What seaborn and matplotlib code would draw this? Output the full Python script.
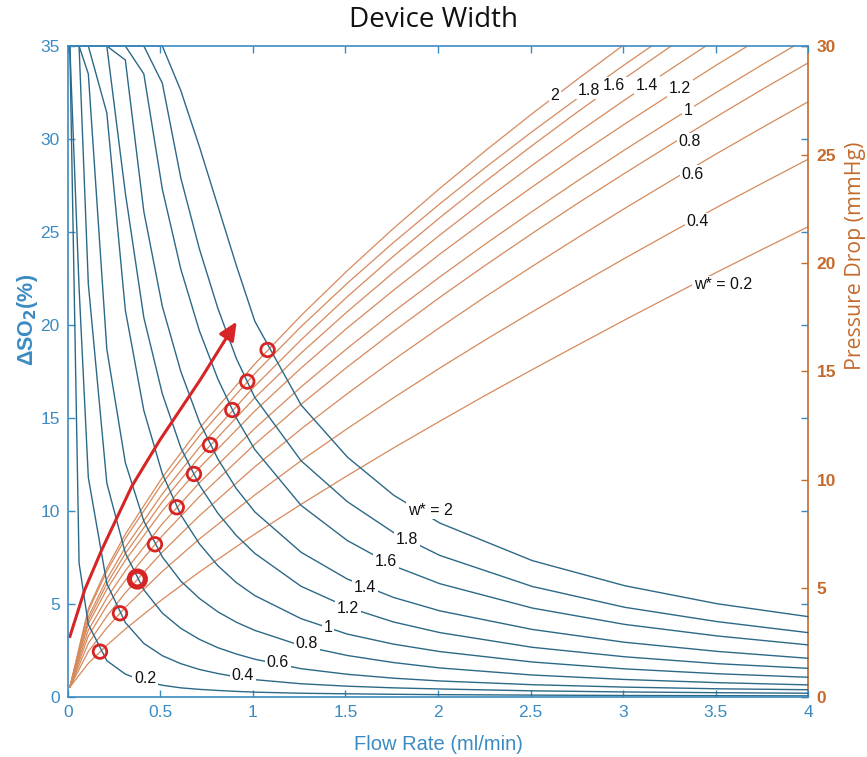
import matplotlib
matplotlib.use("Agg")
import matplotlib.pyplot as plt
import numpy as np
import pandas as pd
import seaborn as sns

# ---------------------------------------------------------------- data
widths = [0.2, 0.4, 0.6, 0.8, 1.0, 1.2, 1.4, 1.6, 1.8, 2.0]
so2_labels = ["0.2", "0.4", "0.6", "0.8", "1", "1.2", "1.4", "1.6", "1.8", "w* = 2"]
dp_labels = ["w* = 0.2", "0.4", "0.6", "0.8", "1", "1.2", "1.4", "1.6", "1.8", "2"]

# flow-rate samples (ml/min) of the oxygen-saturation curves
flow_so2 = [0.01, 0.06, 0.11, 0.21, 0.31, 0.41, 0.51, 0.61, 0.71, 0.81,
            0.91, 1.01, 1.26, 1.51, 1.76, 2.01, 2.51, 3.01, 3.51, 4.0]

# delta SO2 (%) per device width, capped at 35
so2_w02 = [35, 7.2, 3.9, 1.95, 1.23, 0.85, 0.63, 0.49, 0.41, 0.35,
           0.30, 0.26, 0.20, 0.17, 0.145, 0.125, 0.10, 0.08, 0.07, 0.06]
so2_w04 = [35, 22.0, 11.8, 6.1, 4.0, 2.88, 2.22, 1.79, 1.48, 1.26,
           1.08, 0.93, 0.71, 0.58, 0.49, 0.43, 0.33, 0.27, 0.23, 0.20]
so2_w06 = [35, 35, 22.2, 11.5, 7.74, 5.76, 4.51, 3.69, 3.10, 2.65,
           2.31, 2.03, 1.52, 1.22, 1.01, 0.86, 0.66, 0.53, 0.44, 0.39]
so2_w08 = [35, 35, 33.5, 18.7, 12.6, 9.46, 7.53, 6.23, 5.30, 4.58,
           4.02, 3.58, 2.76, 2.23, 1.85, 1.56, 1.18, 0.94, 0.77, 0.65]
so2_w10 = [35, 35, 35, 31.4, 20.8, 15.4, 12.0, 9.79, 8.24, 7.06,
           6.15, 5.45, 4.21, 3.38, 2.84, 2.44, 1.88, 1.51, 1.25, 1.06]
so2_w12 = [35, 35, 35, 35, 27.1, 20.4, 16.3, 13.4, 11.4, 9.88,
           8.68, 7.72, 5.95, 4.83, 4.03, 3.46, 2.67, 2.16, 1.79, 1.54]
so2_w14 = [35, 35, 35, 35, 34.25, 26.1, 21.0, 17.5, 14.8, 12.8,
           11.2, 9.95, 7.78, 6.34, 5.35, 4.63, 3.63, 2.94, 2.45, 2.08]
so2_w16 = [35, 35, 35, 35, 35, 33.5, 27.3, 23.0, 19.7, 17.1,
           15.0, 13.3, 10.3, 8.41, 7.05, 6.09, 4.78, 3.90, 3.28, 2.80]
so2_w18 = [35, 35, 35, 35, 35, 35, 33.0, 27.9, 24.1, 20.9,
           18.2, 16.1, 12.7, 10.5, 8.84, 7.61, 5.94, 4.82, 4.05, 3.46]
so2_w20 = [35, 35, 35, 35, 35, 35, 35, 32.6, 29.6, 26.4,
           23.2, 20.2, 15.7, 12.9, 10.85, 9.35, 7.33, 5.98, 5.01, 4.32]

# flow-rate samples (ml/min) of the pressure-drop curves
flow_dp = [0.01, 0.11, 0.21, 0.31, 0.51, 0.71, 1.01, 1.26, 1.51, 1.76,
           2.01, 2.26, 2.51, 2.76, 3.01, 3.26, 3.51, 3.76, 4.0]

# pressure drop (mmHg) per device width
dp_w02 = [0.45, 1.55, 2.38, 3.13, 4.50, 5.76, 7.51, 8.88, 10.20, 11.48,
          12.71, 13.92, 15.09, 16.24, 17.38, 18.49, 19.59, 20.66, 21.67]
dp_w04 = [0.45, 2.10, 3.18, 4.13, 5.79, 7.28, 9.31, 10.89, 12.37, 13.79,
          15.16, 16.48, 17.75, 19.00, 20.22, 21.41, 22.58, 23.71, 24.78]
dp_w06 = [0.45, 2.47, 3.72, 4.80, 6.68, 8.35, 10.61, 12.35, 13.98, 15.54,
          17.03, 18.47, 19.85, 21.20, 22.52, 23.80, 25.06, 26.28, 27.43]
dp_w08 = [0.45, 2.81, 4.20, 5.38, 7.43, 9.23, 11.65, 13.49, 15.21, 16.85,
          18.42, 19.92, 21.37, 22.78, 24.14, 25.47, 26.77, 28.04, 29.22]
dp_w10 = [0.45, 3.08, 4.56, 5.82, 7.98, 9.87, 12.38, 14.29, 16.07, 17.76,
          19.36, 20.90, 22.38, 23.82, 25.22, 26.57, 27.89, 29.18, 30.38]
dp_w12 = [0.45, 3.37, 4.96, 6.30, 8.58, 10.56, 13.18, 15.16, 17.01, 18.75,
          20.41, 21.99, 23.51, 24.99, 26.41, 27.79, 29.15, 30.45, 31.68]
dp_w14 = [0.45, 3.54, 5.21, 6.61, 8.99, 11.05, 13.79, 15.85, 17.76, 19.57,
          21.29, 22.94, 24.51, 26.04, 27.52, 28.95, 30.35, 31.70, 32.97]
dp_w16 = [0.45, 3.69, 5.43, 6.89, 9.36, 11.50, 14.33, 16.46, 18.45, 20.32,
          22.09, 23.79, 25.42, 27.00, 28.52, 30.00, 31.44, 32.84, 34.15]
dp_w18 = [0.45, 3.97, 5.79, 7.30, 9.85, 12.03, 14.91, 17.07, 19.07, 20.95,
          22.73, 24.43, 26.06, 27.63, 29.15, 30.62, 32.06, 33.43, 34.73]
dp_w20 = [0.45, 4.07, 5.94, 7.50, 10.12, 12.38, 15.35, 17.58, 19.65, 21.60,
          23.44, 25.20, 26.89, 28.51, 30.09, 31.61, 33.10, 34.53, 35.88]

# operating points (flow, delta SO2) picked for each width
point_flow = [0.173, 0.281, 0.375, 0.470, 0.588, 0.681, 0.768, 0.888, 0.969, 1.079]
point_so2 = [2.44, 4.50, 6.34, 8.21, 10.2, 11.99, 13.55, 15.43, 16.96, 18.66]

# trend arrow through the operating points (flow, delta SO2)
arrow_flow = [0.01, 0.09, 0.182, 0.344, 0.497, 0.714, 0.84]
arrow_so2 = [3.24, 5.75, 7.90, 11.31, 13.82, 17.04, 19.05]
arrow_tip = (0.912, 20.18)

# inline label anchors
so2_label_flow = [0.416, 0.946, 1.135, 1.292, 1.405, 1.514, 1.605, 1.719, 1.832, 1.957]
so2_label_val = [0.97, 1.13, 1.83, 2.90, 3.76, 4.78, 5.91, 7.26, 8.44, 10.05]
dp_label_flow = [3.542, 3.405, 3.378, 3.362, 3.351, 3.308, 3.130, 2.951, 2.816, 2.632]
dp_label_val = [18.99, 21.89, 24.06, 25.58, 27.05, 28.06, 28.20, 28.16, 27.97, 27.70]

x_ticks = [0, 0.5, 1, 1.5, 2, 2.5, 3, 3.5, 4]
x_ticklabels = ["0", "0.5", "1", "1.5", "2", "2.5", "3", "3.5", "4"]
left_ticks = [0, 5, 10, 15, 20, 25, 30, 35]
right_ticks = [0, 5, 10, 15, 20, 25, 30]

# ---------------------------------------------------------------- tables
so2_series = [so2_w02, so2_w04, so2_w06, so2_w08, so2_w10,
              so2_w12, so2_w14, so2_w16, so2_w18, so2_w20]
dp_series = [dp_w02, dp_w04, dp_w06, dp_w08, dp_w10,
             dp_w12, dp_w14, dp_w16, dp_w18, dp_w20]

so2_df = pd.concat(
    [pd.DataFrame({"flow": flow_so2, "so2": s, "width": w})
     for w, s in zip(widths, so2_series)], ignore_index=True)
dp_df = pd.concat(
    [pd.DataFrame({"flow": flow_dp, "dp": p, "width": w})
     for w, p in zip(widths, dp_series)], ignore_index=True)

# ---------------------------------------------------------------- style
AX_BLUE = "#3b8bc2"
CURVE_BLUE = "#2c6987"
LINE_ORANGE = "#d68a5c"
AX_ORANGE = "#c46a2c"
RED = "#d62525"

sns.set_style("ticks")
plt.rcParams["font.family"] = ["Liberation Sans", "DejaVu Sans"]

fig = plt.figure(figsize=(8.67, 7.57), dpi=100)
ax = fig.add_axes([0.0784, 0.0793, 0.8536, 0.8599])
ax2 = ax.twinx()
ax.set_zorder(ax2.get_zorder() + 1)
ax.patch.set_visible(False)

# pressure-drop family (right axis)
sns.lineplot(data=dp_df, x="flow", y="dp", units="width", estimator=None,
             sort=False, color=LINE_ORANGE, lw=0.9, ax=ax2)

# oxygen-saturation family (left axis)
sns.lineplot(data=so2_df, x="flow", y="so2", units="width", estimator=None,
             sort=False, color=CURVE_BLUE, lw=1.0, ax=ax, clip_on=False)

# trend arrow
sns.lineplot(x=arrow_flow, y=arrow_so2, sort=False, color=RED, lw=2.2, ax=ax)
ax.annotate("", xy=arrow_tip, xytext=(arrow_flow[-1], arrow_so2[-1]),
            arrowprops=dict(arrowstyle="-|>,head_length=1.1,head_width=0.5",
                            color=RED, lw=2.2, shrinkA=0, shrinkB=0))

# operating points
sns.scatterplot(x=point_flow, y=point_so2, ax=ax, marker="o", s=95,
                facecolors="none", edgecolors=RED, linewidths=2.0, zorder=5)
sns.scatterplot(x=[point_flow[2]], y=[point_so2[2]], ax=ax, marker="o", s=170,
                facecolors="none", edgecolors=RED, linewidths=2.2, zorder=5)

# inline labels
box = dict(boxstyle="square,pad=0.12", fc="white", ec="none")
for q, v, t in zip(so2_label_flow, so2_label_val, so2_labels):
    ax.text(q, v, t, ha="center", va="center", fontsize=11.5, color="#111111",
            bbox=box, zorder=4)
for q, v, t in zip(dp_label_flow, dp_label_val, dp_labels):
    ax2.text(q, v, t, ha="center", va="center", fontsize=11.5, color="#111111",
             bbox=box, zorder=4)

# ---------------------------------------------------------------- axes
ax.set_xlim(0, 4)
ax.set_ylim(0, 35)
ax2.set_ylim(0, 30)
ax.set_xticks(x_ticks)
ax.set_xticklabels(x_ticklabels)
ax.set_yticks(left_ticks)
ax2.set_yticks(right_ticks)
ax.set_xlabel("")
ax.set_ylabel("")
ax2.set_ylabel("")

ax.tick_params(axis="both", which="both", direction="in", length=5, width=1,
               colors=AX_BLUE, labelsize=12.5, top=True, right=True,
               labeltop=False, labelright=False, pad=6)
ax2.tick_params(axis="y", direction="in", length=5, width=1, colors=AX_ORANGE,
                labelsize=12.5, pad=6)
for lab in ax2.get_yticklabels():
    lab.set_fontweight("bold")

for side in ("left", "bottom", "top"):
    ax.spines[side].set_color(AX_BLUE)
    ax.spines[side].set_linewidth(1.2)
ax.spines["right"].set_visible(False)
for side in ("left", "bottom", "top"):
    ax2.spines[side].set_visible(False)
ax2.spines["right"].set_color(AX_ORANGE)
ax2.spines["right"].set_linewidth(1.2)

fig.text(0.5, 1 - 20 / 757, "Device Width", ha="center", va="center",
         fontsize=20, family="Open Sans", color="#111111")
fig.text(438 / 867, 1 - 745 / 757, "Flow Rate (ml/min)", ha="center",
         va="center", fontsize=14.5, color=AX_BLUE)
fig.text(27 / 867, 1 - 320 / 757, "ΔSO$_\\mathbf{2}$(%)", ha="center",
         va="center", rotation=90, fontsize=15.5, color=AX_BLUE,
         fontweight="bold")
fig.text(855 / 867, 1 - 256 / 757, "Pressure Drop (mmHg)", ha="center",
         va="center", rotation=90, fontsize=15.3, family="Open Sans",
         color=AX_ORANGE)

fig.savefig("out.png", dpi=100, facecolor="white")
